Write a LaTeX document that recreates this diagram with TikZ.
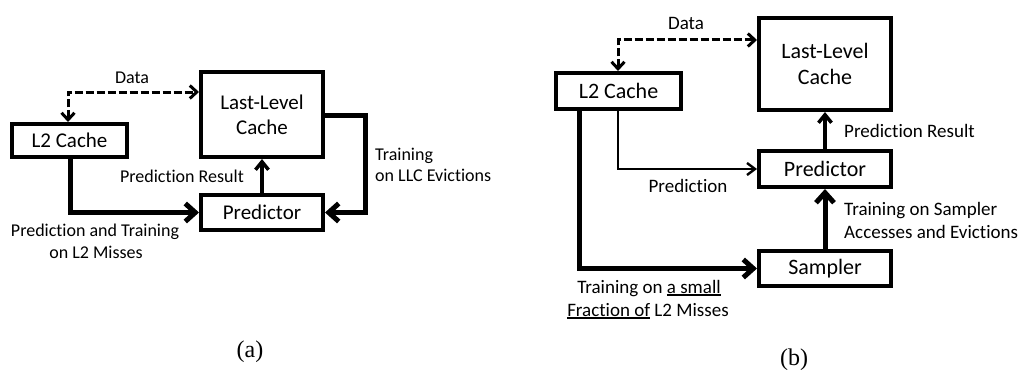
\documentclass[tikz,border=0pt]{standalone}
\usepackage{fontspec}
\setmainfont{Carlito}[Ligatures=NoCommon]
\newfontfamily\capfont{Liberation Serif}
\usetikzlibrary{arrows.meta}
\newcommand\ulbox[1]{\setbox0\hbox{#1}\rlap{\rule[-2.6pt]{\wd0}{1.4pt}}\box0\relax}
\tikzset{
  blockbox/.style={draw, line width=4pt, inner sep=0pt, align=center,
    font=\fontsize{22}{26}\selectfont},
  smallbox/.style={blockbox, font=\fontsize{21}{25}\selectfont},
  lbl/.style={inner sep=0pt, font=\fontsize{19}{22}\selectfont},
  smalllbl/.style={inner sep=0pt, font=\fontsize{18}{22}\selectfont},
  subcaption/.style={inner sep=0pt, font=\capfont\fontsize{24}{28}\selectfont},
  heavy/.style={line width=5pt, -{Straight Barb[length=10pt,width=18pt]}},
  medium/.style={line width=3.5pt, -{Straight Barb[length=8pt,width=13pt]}},
  light/.style={line width=2.4pt, -{Straight Barb[length=8pt,width=12pt]}},
  dataline/.style={line width=3pt, dash pattern=on 8pt off 3pt,
    {Straight Barb[length=7pt,width=13pt]}-{Straight Barb[length=7pt,width=13pt]}},
}
\begin{document}
\begin{tikzpicture}[x=1pt,y=-1pt]
\useasboundingbox (0,0) rectangle (1024,369);

% ---------------- (a) ----------------
\node[smallbox, minimum width=115pt, minimum height=33pt] (L2a) at (69.5,140.5) {L2 Cache};
\node[smallbox, minimum width=122pt, minimum height=85pt] (LLCa) at (262,114.5) {Last-Level\\Cache};
\node[smallbox, minimum width=122pt, minimum height=35pt] (Preda) at (262,212.5) {Predictor};

\coordinate (dA) at (68,92);
\coordinate (tA) at (70,0);
\coordinate (eA) at (365,115);

\draw[dataline] (L2a.north -| dA) |- (LLCa.west |- dA);
\draw[heavy] (L2a.south -| tA) |- (Preda.west);
\draw[medium] (Preda.north) -- (LLCa.south);
\draw[heavy] (LLCa.east |- eA) -- (eA) |- (Preda.east);

\node[smalllbl, anchor=base] (dataA) at (132,83) {Data};
\node[smalllbl, anchor=base east] (resA) at (244,182) {Prediction Result};
\node[smalllbl, anchor=base] (ptA1) at (95,236) {Prediction and Training};
\node[smalllbl, anchor=base] (ptA2) at (96,258) {on L2 Misses};
\node[smalllbl, anchor=base west] (trA1) at (375,160) {Training};
\node[smalllbl, anchor=base west] (trA2) at (375,181) {on LLC Evictions};

\node[subcaption] (capA) at (250,352) {(a)};

% ---------------- (b) ----------------
\node[blockbox, minimum width=125pt, minimum height=36pt] (L2b) at (618.5,91) {L2 Cache};
\node[blockbox, minimum width=132pt, minimum height=92pt] (LLCb) at (825,64) {Last-Level\\Cache};
\node[blockbox, minimum width=132pt, minimum height=36pt] (Predb) at (825,169) {Predictor};
\node[blockbox, minimum width=132pt, minimum height=35pt] (Samp) at (825,268.5) {Sampler};

\coordinate (dB) at (618,40);
\coordinate (sB) at (579,0);

\draw[dataline] (L2b.north -| dB) |- (LLCb.west |- dB);
\draw[light] (L2b.south -| dB) |- (Predb.west);
\draw[heavy] (L2b.south -| sB) |- (Samp.west);
\draw[heavy] (Samp.north) -- (Predb.south);
\draw[medium] (Predb.north) -- (LLCb.south);

\node[lbl, anchor=base] (dataB) at (686,30) {Data};
\node[lbl, anchor=base] (predB) at (688,192) {Prediction};
\node[lbl, anchor=base west] (resB) at (844,137) {Prediction Result};
\node[lbl, anchor=base west] (tsB1) at (844,215) {Training on Sampler};
\node[lbl, anchor=base west] (tsB2) at (844,238) {Accesses and Evictions};
\node[lbl, anchor=base] (tfB1) at (649,293) {Training on \ulbox{a small}};
\node[lbl, anchor=base] (tfB2) at (648,316) {\ulbox{Fraction of} L2 Misses};

\node[subcaption] (capB) at (794,360) {(b)};
\end{tikzpicture}
\end{document}
